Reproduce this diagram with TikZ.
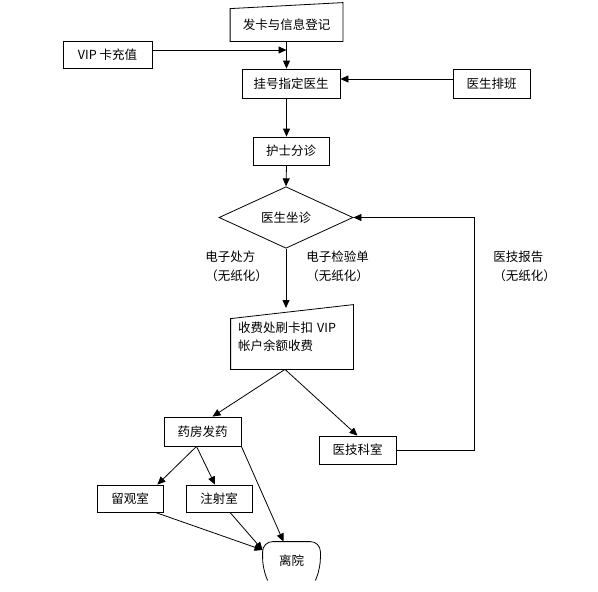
\documentclass[tikz,border=0pt]{standalone}
\usepackage{fontspec}
\newfontfamily\cjk{Noto Sans CJK SC}
\usetikzlibrary{positioning, shapes.geometric, arrows.meta}

\begin{document}
\begin{tikzpicture}[x=1pt, y=-1pt, line width=0.8pt,
  box/.style={draw, rectangle, inner sep=0pt, minimum height=29pt, font=\cjk\fontsize{12.5}{15}\selectfont},
  note/.style={anchor=west, inner sep=0pt, align=left, font=\cjk\fontsize{12.5}{19}\selectfont},
  arr/.style={-{Triangle[length=8pt, width=7pt]}}]

\useasboundingbox (0,0) rectangle (598,592);

% Nodes
\node (card) [box, draw=none, minimum width=112pt, minimum height=32pt] at (286.5,25) {发卡与信息登记};
\node (vip) [box, minimum width=89pt, minimum height=27pt] at (107.5,54.5) {VIP 卡充值};
\node (reg) [box, minimum width=98pt] at (291,83.5) {挂号指定医生};
\node (sched) [box, minimum width=77pt] at (491.5,83.5) {医生排班};
\node (triage) [box, minimum width=76pt, minimum height=28pt] at (291,151) {护士分诊};
\node (see) [box, diamond, minimum width=134pt, minimum height=49pt] at (286,217.5) {医生坐诊};
\node (pay) [box, draw=none, minimum width=122pt, minimum height=45pt, text width=108pt, align=left,
  font=\cjk\fontsize{12.5}{18}\selectfont] at (292,336.5) {收费处刷卡扣 VIP\\帐户余额收费};
\node (rx) [note] at (205,266.5) {电子处方\\（无纸化）};
\node (test) [note] at (306,266.5) {电子检验单\\（无纸化）};
\node (report) [note] at (493,266.5) {医技报告\\（无纸化）};
\node (pharm) [box, minimum width=77pt] at (202.5,431.5) {药房发药};
\node (labdept) [box, minimum width=77pt, minimum height=28pt] at (357.5,450) {医技科室};
\node (obs) [box, minimum width=66pt, minimum height=27pt] at (130,498.5) {留观室};
\node (inj) [box, minimum width=66pt, minimum height=27pt] at (219,498.5) {注射室};
\node (leave) [box, draw=none, minimum width=57pt, minimum height=38pt] at (291.5,561) {离院};

\coordinate (payin) at (286,308);
\coordinate (turn) at (474,217.5);

% Outlines
\draw (card.south west) -- (card.south east) -- ([yshift=6pt]card.north east) -- (card.north west) -- cycle;
\draw ([yshift=-10pt]pay.south west) -- ([yshift=-10pt]pay.south east) -- ([yshift=9pt]pay.north east)
  -- ([yshift=-5pt]pay.north west) -- cycle;
\draw[rounded corners=10pt] ([xshift=5pt]leave.south west) -- ([yshift=12pt]leave.south west) -- (leave.north west)
  -- (leave.north east) -- ([yshift=12pt]leave.south east) -- ([xshift=-5pt]leave.south east);

% Arrows
\draw[arr] (card.south) -- (card.south |- reg.north);
\draw[arr] ([yshift=4.5pt]vip.east) -- ([yshift=4.5pt]vip.east -| card.south);
\draw[arr] ([yshift=4.5pt]sched.west) -- ([yshift=4.5pt]reg.east);
\draw[arr] (card.south |- reg.south) -- (card.south |- triage.north);
\draw[arr] (card.south |- triage.south) -- (see.north);
\draw[arr] (see.south) -- (payin);
\draw[arr] ([xshift=-7pt,yshift=-10pt]pay.south) -- ([xshift=10pt]pharm.north);
\draw[arr] ([xshift=-7pt,yshift=-10pt]pay.south) -- (labdept.north);
\draw[arr] (labdept.east) -| (turn) -- (see.east);
\draw[arr] ([xshift=-6pt]pharm.south) -- ([xshift=-6pt]obs.north east);
\draw[arr] ([xshift=-6pt]pharm.south) -- ([xshift=-4pt]inj.north);
\draw[arr] (pharm.south east) -- ([xshift=-8pt]leave.north);
\draw[arr] ([xshift=-8pt]obs.south east) -- ([yshift=11pt]leave.west);
\draw[arr] ([xshift=11pt]inj.south) -- ([yshift=11pt]leave.west);

\end{tikzpicture}
\end{document}
